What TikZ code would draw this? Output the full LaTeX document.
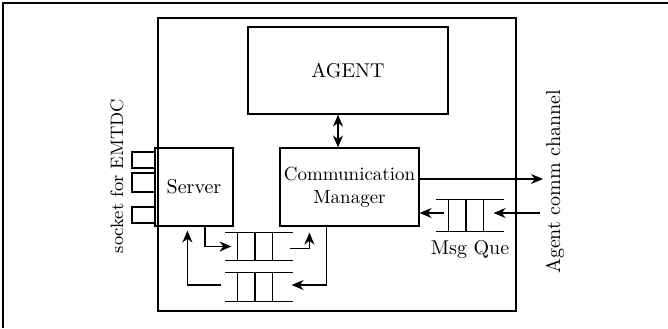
\documentclass[tikz,border=0pt]{standalone}
\usepackage{tikz}
\usetikzlibrary{arrows.meta,positioning,calc}

\begin{document}
\begin{tikzpicture}[x=0.5pt, y=-0.5pt, semithick, >={Stealth[length=6pt,width=5pt]},
    box/.style={draw, rectangle, inner sep=0pt},
    que/.style={rectangle, inner sep=0pt, minimum width=33pt}]
    \useasboundingbox (0,0) rectangle (668,328);

    % Frame
    \draw (3,328) -- (3,3) -- (668,3);
    \draw (158,18) rectangle (516,311);

    % Blocks
    \node[box, minimum width=100pt, minimum height=43.5pt] (agent) at (348,70.5) {AGENT};
    \node[box, minimum width=69.5pt, minimum height=39pt, align=center,
        font=\fontsize{9.5}{11.5}\selectfont] (comm) at (349.5,187)
        {Communication\\Manager};
    \node[box, minimum width=39pt, minimum height=39pt] (server) at (194,187) {Server};

    % Sockets
    \node[box, minimum width=11.5pt, minimum height=8pt] (s1) at (143.5,160) {};
    \node[box, minimum width=11.5pt, minimum height=9.5pt] (s2) at (143.5,182.5) {};
    \node[box, minimum width=11.5pt, minimum height=8pt] (s3) at (143.5,215) {};
    \node[rotate=90, font=\fontsize{9}{11}\selectfont] (sock) at (117,176) {socket for EMTDC};

    % Queues
    \node[que, minimum height=13.5pt] (q1) at (259,246.5) {};
    \node[que, minimum height=14pt] (q2) at (259,287) {};
    \node[que, minimum height=15.5pt] (q3) at (470,215.5) {};
    \foreach \q in {q1,q2,q3} {
        \draw (\q.north west) -- (\q.north east);
        \draw (\q.south west) -- (\q.south east);
        \foreach \f in {0.18,0.44,0.70}
            \draw ($(\q.north west)!\f!(\q.north east)$) -- ($(\q.south west)!\f!(\q.south east)$);
    }
    \node[below=1pt of q3] (msgq) {Msg Que};

    % Channel
    \coordinate (out) at (543,179);
    \coordinate (in) at (540,213);
    \node[rotate=90] (chan) at (555,182) {Agent comm channel};

    % Connectors
    \draw[<->] ($(agent.south)+(-10,0)$) -- ($(comm.north)+(-11.5,0)$);
    \draw[->] ($(server.south)+(11,0)$) |- ($(q1.west)+(6,0)$);
    \draw[->] ($(q1.east)+(-3,2)$) -| ($(comm.south west)+(30,6)$);
    \draw[->] ($(comm.south west)+(47,0)$) |- ($(q2.east)+(-1,-2)$);
    \draw[->] ($(q2.west)+(-4,-2)$) -| ($(server.south west)+(33,4)$);
    \draw[->] (comm.east |- out) -- (out);
    \draw[->] (in) -- ($(q3.east)+(-10,-2.5)$);
    \draw[->] ($(q3.west)+(8,-2.5)$) -- (comm.east |- {$(q3.west)+(0,-2.5)$});
\end{tikzpicture}
\end{document}
